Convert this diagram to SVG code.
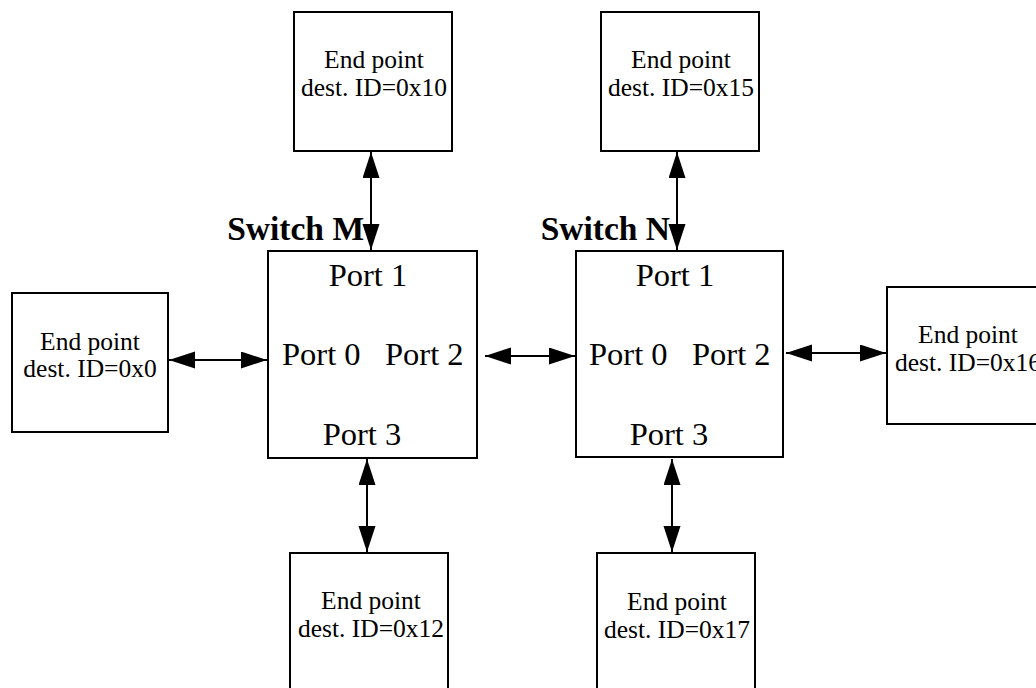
<svg xmlns="http://www.w3.org/2000/svg" width="1036" height="688" viewBox="0 0 1036 688">
<style>
.box{fill:#fff;stroke:#000;stroke-width:2}
.ep{font-family:"Liberation Serif","Times New Roman",serif;font-size:25.5px;text-anchor:middle;fill:#000}
.port{font-family:"Liberation Serif","Times New Roman",serif;font-size:32.5px;fill:#000}
.sw{font-family:"Liberation Serif","Times New Roman",serif;font-size:33.5px;font-weight:bold;fill:#000;text-anchor:end}
.conn{stroke:#000;stroke-width:2;fill:none;marker-start:url(#ah);marker-end:url(#ah)}
</style>
<defs>
<marker id="ah" markerUnits="userSpaceOnUse" markerWidth="28" markerHeight="18" refX="26" refY="8.5" orient="auto-start-reverse" viewBox="0 0 28 18">
<path d="M0,0 L26,8.5 L0,17 Z" fill="#000"/>
</marker>
</defs>
<rect width="1036" height="688" fill="#fff"/>
<g id="connectors">
<line class="conn" x1="371" y1="152" x2="371" y2="250"/>
<line class="conn" x1="677" y1="152" x2="677" y2="250"/>
<line class="conn" x1="169" y1="360" x2="267" y2="360"/>
<line class="conn" x1="485" y1="356" x2="575" y2="356"/>
<line class="conn" x1="786" y1="353" x2="886" y2="353"/>
<line class="conn" x1="367" y1="459" x2="367" y2="552"/>
<line class="conn" x1="672" y1="459" x2="672" y2="552"/>
</g>
<g id="switchM">
<rect class="box" x="268" y="251" width="209" height="207"/>
<text class="sw" x="364" y="240">Switch M</text>
<text class="port" x="368" y="286" text-anchor="middle">Port 1</text>
<text class="port" x="282" y="365">Port 0</text>
<text class="port" x="385" y="365">Port 2</text>
<text class="port" x="362" y="445" text-anchor="middle">Port 3</text>
</g>
<g id="switchN">
<rect class="box" x="576" y="251" width="207" height="206"/>
<text class="sw" x="670" y="240">Switch N</text>
<text class="port" x="675" y="286" text-anchor="middle">Port 1</text>
<text class="port" x="589" y="365">Port 0</text>
<text class="port" x="692" y="365">Port 2</text>
<text class="port" x="669" y="445" text-anchor="middle">Port 3</text>
</g>
<g id="ep10">
<rect class="box" x="294" y="12" width="158" height="139"/>
<text class="ep" x="374" y="68">End point</text>
<text class="ep" x="374" y="96">dest. ID=0x10</text>
</g>
<g id="ep15">
<rect class="box" x="601" y="12" width="158" height="139"/>
<text class="ep" x="681" y="68">End point</text>
<text class="ep" x="681" y="96">dest. ID=0x15</text>
</g>
<g id="ep0">
<rect class="box" x="12" y="293" width="156" height="139"/>
<text class="ep" x="90" y="350">End point</text>
<text class="ep" x="90" y="377">dest. ID=0x0</text>
</g>
<g id="ep16">
<rect class="box" x="887" y="287" width="160" height="137"/>
<text class="ep" x="968" y="343">End point</text>
<text class="ep" x="968" y="371">dest. ID=0x16</text>
</g>
<g id="ep12">
<rect class="box" x="290" y="553" width="158" height="150"/>
<text class="ep" x="371" y="609">End point</text>
<text class="ep" x="371" y="637">dest. ID=0x12</text>
</g>
<g id="ep17">
<rect class="box" x="597" y="553" width="158" height="150"/>
<text class="ep" x="677" y="610">End point</text>
<text class="ep" x="677" y="638">dest. ID=0x17</text>
</g>
</svg>
